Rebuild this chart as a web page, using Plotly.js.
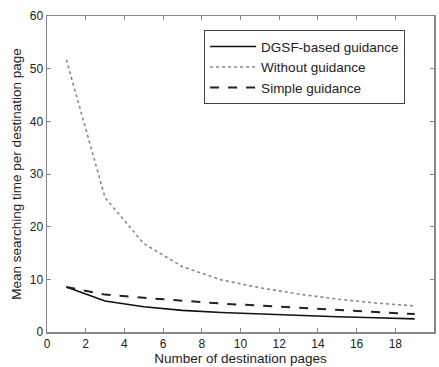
<!DOCTYPE html>
<html><head><meta charset="utf-8">
<script src="https://cdn.plot.ly/plotly-3.0.1.min.js"></script>
<style>body{margin:0;padding:0;background:#fff}#chart{width:439px;height:367px}</style>
</head><body><div id="chart"></div>
<script>
const pages = [1, 3, 5, 7, 9, 11, 13, 15, 17, 19];
const dgsf = [8.55, 5.9, 4.8, 4.1, 3.7, 3.4, 3.1, 2.9, 2.7, 2.5];
const without = [51.7, 25.5, 16.8, 12.4, 9.9, 8.4, 7.2, 6.25, 5.5, 4.95];
const simple = [8.55, 7.1, 6.5, 5.9, 5.4, 5.0, 4.6, 4.2, 3.8, 3.4];
const seriesNames = ["DGSF-based guidance", "Without guidance", "Simple guidance"];
const xTicks = [0, 2, 4, 6, 8, 10, 12, 14, 16, 18, 20];
const yTicks = [0, 10, 20, 30, 40, 50, 60];

const traces = [
  {x: pages, y: dgsf, name: seriesNames[0], mode: 'lines', line: {color: '#111', width: 1.6, dash: 'solid'}},
  {x: pages, y: without, name: seriesNames[1], mode: 'lines', line: {color: '#888', width: 1.6, dash: 'dot'}},
  {x: pages, y: simple, name: seriesNames[2], mode: 'lines', line: {color: '#222', width: 2, dash: 'dash'}}
];
const font = {family: 'Liberation Sans, Arial, sans-serif', color: '#222'};
const axisCommon = {
  showgrid: false, zeroline: false, showline: true, linecolor: '#888', linewidth: 1.5,
  mirror: 'ticks', ticks: 'inside', ticklen: 4, tickcolor: '#888',
  tickfont: {family: font.family, size: 12, color: '#222'}
};
const layout = {
  width: 439, height: 367,
  margin: {l: 47, r: 5, t: 16, b: 35},
  paper_bgcolor: '#fff', plot_bgcolor: '#fff',
  font: font,
  showlegend: true,
  legend: {x: 0.406, y: 0.955, xanchor: 'left', yanchor: 'top', bgcolor: '#fff',
           bordercolor: '#444', borderwidth: 1, font: {family: font.family, size: 13.5, color: '#222'},
           itemwidth: 46, tracegroupgap: 0},
  xaxis: Object.assign({}, axisCommon, {range: [0, 20], tickvals: xTicks, ticktext: xTicks.map(String),
    title: {text: 'Number of destination pages', font: {family: font.family, size: 13.5, color: '#222'}, standoff: 3}}),
  yaxis: Object.assign({}, axisCommon, {range: [0, 60], tickvals: yTicks, ticktext: yTicks.map(String),
    title: {text: 'Mean searching time per destination page', font: {family: font.family, size: 13.5, color: '#222'}, standoff: 5}})
};
Plotly.newPlot('chart', traces, layout, {displayModeBar: false, staticPlot: true});
</script></body></html>
